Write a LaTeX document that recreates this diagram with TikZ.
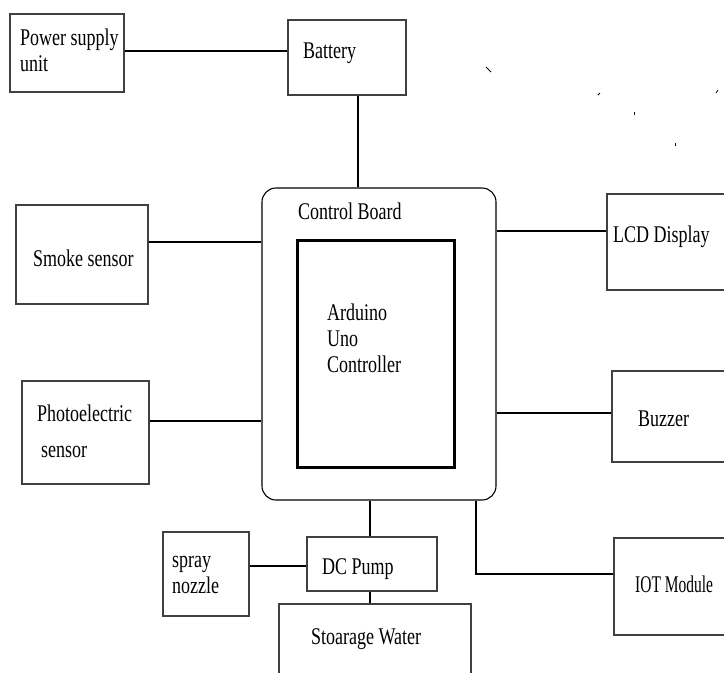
\documentclass[tikz,border=0pt]{standalone}
\usepackage{fontspec}
\setmainfont{Liberation Serif}
\usepackage{graphicx}
\newcommand{\tl}[1]{\scalebox{1}[1.33]{#1}}
\tikzset{
  blk/.style={draw=black!75, line width=1.1pt, inner sep=0pt},
  lbl/.style={anchor=base west, inner sep=0pt, font=\fontsize{18}{26}\selectfont},
  wire/.style={line width=1.1pt}
}

\begin{document}
\begin{tikzpicture}[x=1pt, y=-1pt]
    \useasboundingbox (0,0) rectangle (724,673);
    \clip (0,0) rectangle (724,673);
    \node[blk, minimum width=114pt, minimum height=78pt] (ps) at (67,53) {};
    \node[blk, minimum width=118pt, minimum height=75pt] (bat) at (347,57.5) {};
    \node[blk, draw=black, rounded corners=14pt, minimum width=234pt, minimum height=312pt] (cb) at (379,344) {};
    \node[blk, draw=black, line width=3pt, minimum width=157pt, minimum height=227pt] (ard) at (375.5,353.5) {};
    \node[blk, minimum width=132pt, minimum height=99pt] (smoke) at (82,254.5) {};
    \node[blk, minimum width=127pt, minimum height=103pt] (photo) at (85.5,432.5) {};
    \node[blk, minimum width=128pt, minimum height=96pt] (lcd) at (671,242) {};
    \node[blk, minimum width=123pt, minimum height=91pt] (buz) at (673.5,416.5) {};
    \node[blk, minimum width=121pt, minimum height=97pt] (iot) at (674.5,586.5) {};
    \node[blk, minimum width=130pt, minimum height=54pt] (pump) at (372,564) {};
    \node[blk, minimum width=86pt, minimum height=84pt] (noz) at (206,574) {};
    \node[blk, minimum width=192pt, minimum height=86pt] (tank) at (375,647) {};

    \node[lbl] (psA) at (20,45) {\tl{Power supply}};
    \node[lbl] (psB) at (20,71) {\tl{unit}};
    \node[lbl] (batT) at (303,58) {\tl{Battery}};
    \node[lbl] (cbT) at (298,219) {\tl{Control Board}};
    \node[lbl] (ardA) at (327,320) {\tl{Arduino}};
    \node[lbl] (ardB) at (327,346) {\tl{Uno}};
    \node[lbl] (ardC) at (327,372) {\tl{Controller}};
    \node[lbl] (smokeT) at (33,266) {\tl{Smoke sensor}};
    \node[lbl] (photoA) at (37,421) {\tl{Photoelectric}};
    \node[lbl] (photoB) at (41,457) {\tl{sensor}};
    \node[lbl] (lcdT) at (613,242) {\tl{LCD Display}};
    \node[lbl] (buzT) at (638,426) {\tl{Buzzer}};
    \node[lbl] (iotT) at (635,592) {\scalebox{0.86}[1.33]{IOT Module}};
    \node[lbl] (pumpT) at (322,574) {\tl{DC Pump}};
    \node[lbl] (nozA) at (172,567) {\tl{spray}};
    \node[lbl] (nozB) at (172,593) {\tl{nozzle}};
    \node[lbl] (tankT) at (311,644) {\tl{Stoarage Water}};

    \draw[wire] (ps.east |- 0,51) -- (bat.west |- 0,51);
    \draw[wire] (bat.south -| 358,0) -- (cb.north -| 358,0);
    \draw[wire] (smoke.east |- 0,242) -- (cb.west |- 0,242);
    \draw[wire] (photo.east |- 0,421) -- (cb.west |- 0,421);
    \draw[wire] (cb.east |- 0,231) -- (lcd.west |- 0,231);
    \draw[wire] (cb.east |- 0,413) -- (buz.west |- 0,413);
    \draw[wire] (cb.south -| 476,0) |- (iot.west |- 0,574);
    \draw[wire] (cb.south -| 370,0) -- (pump.north -| 370,0);
    \draw[wire] (noz.east |- 0,566) -- (pump.west |- 0,566);
    \draw[wire] (pump.south -| 370,0) -- (tank.north -| 370,0);

    \draw[line width=0.8pt] (486,67) -- (491,72);
    \draw[line width=0.8pt] (598,95) -- (600,93);
    \draw[line width=0.8pt] (634,112) -- (634,114.5);
    \draw[line width=0.8pt] (675,143) -- (675,145.5);
    \draw[line width=0.8pt] (716,93) -- (718,90);
\end{tikzpicture}
\end{document}
